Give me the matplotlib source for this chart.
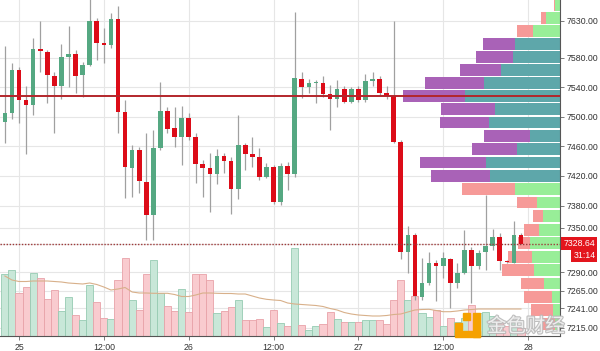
import matplotlib
matplotlib.use("Agg")
import matplotlib.pyplot as plt
import matplotlib.transforms as mtransforms
import matplotlib.patheffects as pe
from matplotlib.patches import Rectangle
import numpy as np

# ---------------- data ----------------
hours = list(range(-2, 72))  # hourly candles, hours since day 25 00:00

opens = [7492.5, 7504.6, 7563.1, 7522.6, 7516.3, 7591.9, 7587.4, 7555.4, 7541.5, 7581.1,
         7584.7, 7556.0, 7570.3, 7629.7, 7600.0, 7597.3, 7632.0, 7506.8, 7430.3, 7455.1,
         7412.2, 7367.2, 7457.4, 7507.7, 7485.2, 7472.2, 7498.7, 7473.0, 7436.1, 7430.7,
         7422.6, 7446.9, 7440.6, 7401.9, 7461.4, 7449.6, 7445.2, 7418.2, 7432.5, 7385.2,
         7433.8, 7422.6, 7551.4, 7540.6, 7545.2, 7546.0, 7530.7, 7523.5, 7537.1, 7520.3,
         7537.9, 7522.2, 7548.7, 7550.6, 7531.7, 7528.0, 7466.3, 7317.7, 7340.2, 7256.0,
         7275.8, 7302.8, 7298.3, 7307.4, 7275.8, 7289.3, 7320.4, 7298.7, 7317.7, 7325.4,
         7337.1, 7305.5, 7302.8, 7340.2]
highs = [7596.0, 7572.2, 7567.2, 7541.5, 7605.9, 7629.3, 7590.2, 7560.8, 7597.9, 7622.6,
         7590.2, 7574.3, 7664.5, 7633.4, 7619.5, 7640.5, 7649.6, 7522.6, 7461.8, 7459.1,
         7477.6, 7482.1, 7547.3, 7513.6, 7513.6, 7514.5, 7505.0, 7477.6, 7441.5, 7450.6,
         7456.0, 7451.0, 7446.0, 7502.3, 7464.5, 7473.0, 7457.4, 7437.9, 7434.8, 7437.5,
         7438.8, 7641.9, 7560.8, 7551.0, 7549.6, 7555.0, 7542.9, 7549.6, 7541.5, 7539.8,
         7541.5, 7557.7, 7560.8, 7555.0, 7541.5, 7629.7, 7468.6, 7352.4, 7342.9, 7308.7,
         7317.7, 7306.4, 7317.7, 7309.1, 7302.4, 7347.0, 7324.0, 7320.0, 7394.3, 7348.3,
         7342.9, 7306.4, 7359.5, 7342.9]
lows = [7464.1, 7496.5, 7491.5, 7449.2, 7502.3, 7560.8, 7518.5, 7478.4, 7523.5, 7539.8,
        7531.7, 7527.1, 7568.0, 7576.6, 7573.0, 7593.3, 7477.6, 7389.8, 7392.0, 7396.6,
        7333.5, 7333.5, 7455.1, 7477.6, 7459.5, 7434.8, 7468.6, 7410.1, 7392.0, 7371.7,
        7408.7, 7424.0, 7368.2, 7388.4, 7428.0, 7432.5, 7414.5, 7416.8, 7382.1, 7380.7,
        7401.0, 7419.0, 7524.9, 7531.7, 7519.0, 7527.1, 7482.1, 7513.6, 7518.1, 7518.1,
        7520.3, 7520.3, 7541.5, 7529.4, 7523.5, 7464.1, 7307.4, 7288.5, 7252.4, 7252.4,
        7272.7, 7251.0, 7281.7, 7241.6, 7268.6, 7287.5, 7248.4, 7293.9, 7292.9, 7320.0,
        7292.9, 7302.4, 7302.0, 7328.0]
closes = [7504.6, 7563.1, 7522.6, 7515.8, 7591.9, 7588.4, 7556.0, 7541.5, 7581.1, 7584.7,
          7555.4, 7570.3, 7629.7, 7600.0, 7597.3, 7632.0, 7506.8, 7432.5, 7455.1, 7413.6,
          7367.2, 7457.4, 7507.7, 7483.4, 7472.2, 7498.7, 7473.0, 7436.1, 7430.7, 7422.6,
          7446.9, 7440.6, 7401.9, 7461.4, 7449.6, 7445.2, 7418.2, 7432.5, 7385.2, 7433.8,
          7422.6, 7551.9, 7540.6, 7545.2, 7546.9, 7530.7, 7523.5, 7537.1, 7520.3, 7537.9,
          7522.2, 7548.7, 7550.6, 7531.7, 7528.0, 7466.3, 7317.7, 7340.2, 7257.8, 7275.8,
          7302.8, 7298.3, 7309.5, 7275.8, 7289.3, 7320.4, 7298.7, 7315.5, 7325.4, 7337.1,
          7305.5, 7304.1, 7340.2, 7328.64]
volumes = [62, 66, 42.7, 48.7, 62.7, 57.7, 36.7, 46, 25, 38.7,
           21, 16, 51, 34.3, 17.7, 16.7, 56, 78.3, 36, 26,
           62, 76, 42.7, 30.3, 25, 46.7, 24.3, 62, 62, 56,
           22.7, 25, 28.7, 36, 15.7, 15.7, 16.7, 9.3, 26, 12.7,
           10, 88.3, 11, 6, 10, 12.3, 24, 16.7, 13.8, 14.2,
           13.8, 16, 16, 16, 12, 36, 56, 35.7, 40.5, 22.7,
           19, 26, 10, 17.7, 14, 18, 31, 22.7, 24.3, 20,
           16, 10, 14, 8]
volume_ma = [60, 56, 54.5, 54.5, 55, 55, 55, 54.5, 54, 53,
             52.5, 52, 53, 51.5, 49, 46, 47, 48.5, 44, 43,
             43, 42.7, 42.7, 42.7, 41.5, 39.5, 39.5, 41, 43, 43,
             42.7, 42.5, 42.5, 42, 42, 40, 38, 36.7, 36, 35.5,
             33, 32, 31.5, 31, 30.5, 29.5, 27.5, 26, 23.5, 22,
             21, 20.5, 20, 20, 20.5, 21.5, 22, 24, 26, 26.5,
             26.7, 25.5, 24.3, 24.3, 25, 26, 26.5, 27, 27, 27,
             27, 27, 27, 27]

profile_prices = [7651.0, 7633.7, 7616.1, 7598.0, 7580.4, 7563.1, 7545.2, 7528.0, 7510.2,
                  7492.2, 7474.2, 7456.7, 7438.2, 7420.2, 7402.1, 7384.1, 7366.2, 7347.2,
                  7329.0, 7310.9, 7292.9, 7274.7, 7256.5, 7238.9, 7220.0]
profile_up = [4.7, 14, 26.7, 45, 47.3, 59, 75.7, 94.7, 64.7, 71, 30.3, 43, 74, 69.7,
              45, 23, 16.7, 21.3, 29.7, 28, 26.5, 16.5, 8, 7, 4.7]
profile_down = [1.6, 5, 16.6, 32.3, 36.7, 40.7, 59, 62.6, 54, 49.3, 45.4, 45, 65.7, 59,
                53.3, 20.3, 10.6, 14.4, 12.8, 24.5, 31.5, 22.5, 27.7, 22, 13.3]
value_area = [False, False, False, True, True, True, True, True, True, True, True, True,
              True, True, False, False, False, False, False, False, False, False, False,
              False, False]

poc_price = 7527.6
last_price = 7328.64
countdown = "31:14"

xtick_hours = [0, 12, 24, 36, 48, 60, 72]
xtick_labels = ["25", "12:00", "26", "12:00", "27", "12:00", "28"]
ytick_values = [7630, 7580, 7540, 7500, 7460, 7420, 7380, 7350, 7290, 7265, 7241, 7215]

# ---------------- style ----------------
UP = "#55a882"
DOWN = "#dc0c18"
WICK = "#a0a0a0"
VOL_UP_FC, VOL_UP_EC = "#c8e7d8", "#96cbb2"
VOL_DN_FC, VOL_DN_EC = "#f9cbcf", "#e8a2a9"
VA_UP, VA_DN = "#5ea7aa", "#a962b7"
OUT_UP, OUT_DN = "#98ee98", "#f69a98"
GRID = "#e6e6e6"
FONT = "Liberation Sans"
FS = 6.3

plt.rcParams["font.family"] = [FONT, "DejaVu Sans"]

fig = plt.figure(figsize=(6.0, 3.51), dpi=100, facecolor="white")
rect = [0.0, 15 / 351, 560 / 600, 336 / 351]
xlim = (-2.69, 76.52)
ylim = (7203.8, 7657.7)

ax_grid = fig.add_axes(rect, zorder=0)
ax_prof = fig.add_axes(rect, zorder=1)
ax_vol = fig.add_axes(rect, zorder=2)
ax = fig.add_axes(rect, zorder=3)

for a in (ax_grid, ax_prof, ax_vol, ax):
    a.set_facecolor("none")
    for s in a.spines.values():
        s.set_visible(False)
ax_grid.set_facecolor("white")

# grid layer
ax_grid.set_xlim(*xlim)
ax_grid.set_ylim(*ylim)
ax_grid.set_xticks(xtick_hours)
ax_grid.set_yticks(ytick_values + [last_price])
ax_grid.grid(True, color=GRID, lw=0.8)
ax_grid.tick_params(left=False, bottom=False, labelleft=False, labelbottom=False)

# volume profile layer
ax_prof.set_ylim(*ylim)
ax_prof.set_xlim(560, 0)
up_cols = [VA_UP if v else OUT_UP for v in value_area]
dn_cols = [VA_DN if v else OUT_DN for v in value_area]
ax_prof.barh(profile_prices, profile_up, height=15.8, left=0, color=up_cols, linewidth=0)
ax_prof.barh(profile_prices, profile_down, height=15.8, left=profile_up, color=dn_cols, linewidth=0)
ax_prof.set_xticks([])
ax_prof.set_yticks([])

# volume layer
ax_vol.set_xlim(*xlim)
ax_vol.set_ylim(0, 336)
is_up = [c >= o for o, c in zip(opens, closes)]
ax_vol.bar(hours, volumes, width=1.0,
           color=[VOL_UP_FC if u else VOL_DN_FC for u in is_up],
           edgecolor=[VOL_UP_EC if u else VOL_DN_EC for u in is_up], linewidth=0.6)
ax_vol.plot(hours, volume_ma, color="#d8b08a", lw=0.8)
ax_vol.set_xticks([])
ax_vol.set_yticks([])

# candles layer
ax.set_xlim(*xlim)
ax.set_ylim(*ylim)
ax.vlines(hours, lows, highs, color=WICK, lw=0.9, zorder=2)
body_bottom = [min(o, c) for o, c in zip(opens, closes)]
body_height = [max(abs(c - o), 1.6) for o, c in zip(opens, closes)]
ax.bar(hours, body_height, bottom=body_bottom, width=0.66,
       color=[UP if u else DOWN for u in is_up], linewidth=0, zorder=3)
ax.axhline(poc_price, color="#b3262b", lw=1.4, zorder=4)
ax.axhline(last_price, color="#9e3a3a", lw=1.0, ls=(0, (1, 1.2)), zorder=4)

ax.yaxis.tick_right()
ax.set_yticks(ytick_values)
ax.set_yticklabels([f"{v:.2f}" for v in ytick_values])
ax.set_xticks(xtick_hours)
ax.set_xticklabels(xtick_labels)
ax.tick_params(axis="y", length=3, width=0.6, color="#666666", labelsize=FS,
               labelcolor="#333333", pad=2)
ax.tick_params(axis="x", length=3, width=0.6, color="#666666", labelsize=FS,
               labelcolor="#333333", pad=2)
ax.spines["right"].set_visible(True)
ax.spines["bottom"].set_visible(True)
ax.spines["right"].set_color("#555555")
ax.spines["bottom"].set_color("#555555")
ax.spines["right"].set_linewidth(0.8)
ax.spines["bottom"].set_linewidth(0.8)

# last price labels
blend = mtransforms.blended_transform_factory(ax.transAxes, ax.transData)
ax.text(1.006, last_price, f"{last_price:.2f}", transform=blend, ha="left", va="center",
        color="white", fontsize=FS, clip_on=False, zorder=6,
        bbox=dict(boxstyle="square,pad=0.22", fc="#e3151d", ec="none"))
ax.annotate(countdown, xy=(1.0, last_price), xycoords=blend, xytext=(25.5, -8.4),
            textcoords="offset points", ha="right", va="center", color="white",
            fontsize=FS, annotation_clip=False, zorder=6,
            bbox=dict(boxstyle="square,pad=0.22", fc="#e3151d", ec="none"))

# watermark (logo + text)
def px_rect(x0, y0, x1, y1, color):
    fig.patches.append(Rectangle((x0 / 600, (351 - y1) / 351), (x1 - x0) / 600,
                                 (y1 - y0) / 351, transform=fig.transFigure,
                                 color=color, zorder=9))

px_rect(455, 323, 462, 330, "#f5a100")
px_rect(463, 313, 470, 320, "#f5a100")
px_rect(473, 313, 480, 337, "#f5a100")
px_rect(455, 331, 480, 337, "#f5a100")
fig.text(487 / 600, (351 - 337) / 351, "金色财经", fontsize=14,
         family=["Noto Sans CJK SC", "DejaVu Sans"], color="#f4f4f4", alpha=0.9,
         ha="left", va="bottom", zorder=10,
         path_effects=[pe.Stroke(linewidth=1.6, foreground="#b8b8b8"), pe.Normal()])

fig.savefig("out.png", dpi=100, facecolor="white")
